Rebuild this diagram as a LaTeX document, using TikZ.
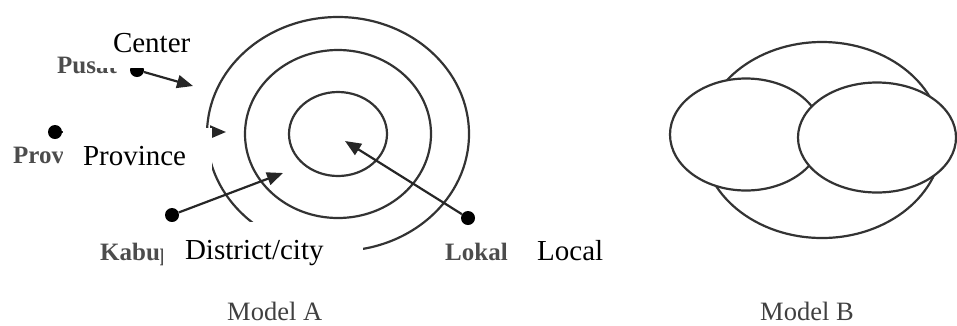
\documentclass[tikz,border=0pt]{standalone}
\usepackage{fontspec}
\setmainfont{Liberation Serif}
\usetikzlibrary{arrows.meta}
\tikzset{
  ring/.style={line width=2.2pt, draw=black!80},
  dot/.style={circle, fill=black, inner sep=0pt, minimum size=14pt},
  link/.style={line width=2.2pt, draw=black!85, -{Triangle[length=16pt,width=13pt]}},
  oldlabel/.style={text=black!70, font=\fontsize{25}{30}\selectfont\bfseries, inner sep=0pt, anchor=base west},
  newlabel/.style={fill=white, inner ysep=0pt, align=left, font=\fontsize{29}{34}\selectfont},
  modellabel/.style={text=black!75, font=\fontsize{26.5}{30}\selectfont, inner sep=0pt, anchor=base west}
}
\begin{document}
\begin{tikzpicture}[x=1pt, y=-1pt]
    \useasboundingbox (0,0) rectangle (957,325);
    \draw[ring] (338,134) ellipse (131 and 117);
    \draw[ring] (338,134) ellipse (93 and 84);
    \draw[ring] (338,134) ellipse (49 and 42);
    \node[dot] (pusat) at (137,70) {};    \coordinate (pusatTip) at (193,86);
    \node[dot] (prov) at (55,132) {};     \coordinate (provTip) at (226,132);
    \node[dot] (kab) at (172,215) {};     \coordinate (kabTip) at (283,173);
    \node[dot] (lokal) at (468,218) {};   \coordinate (lokalTip) at (345,141);
    \draw[link] (pusat) -- (pusatTip); \draw[link] (prov) -- (provTip);
    \draw[link] (kab) -- (kabTip);     \draw[link] (lokal) -- (lokalTip);
    \node[oldlabel] (pusatText) at (57,73) {Pusat};
    \node[oldlabel] (provText) at (13,163) {Provinsi};
    \node[oldlabel] (kabText) at (100,260) {Kabupaten/kota};
    \node[oldlabel] (lokalText) at (445,260) {Lokal};
    \node[newlabel, text width=79pt, inner xsep=18pt, minimum height=50pt] (center) at (152.5,43.4) {Center};
    \node[newlabel, text width=109pt, inner xsep=20pt, minimum height=57pt] (province) at (137.5,156.5) {Province};
    \node[newlabel, text width=156pt, inner xsep=22pt, minimum height=62pt] (district) at (263,253.2) {District/city};
    \node[font=\fontsize{29}{34}\selectfont, inner sep=0pt, anchor=base west] (local) at (537,260) {Local};
    \draw[ring] (822,140) ellipse (120 and 98);
    \draw[ring, fill=white] (746,134.5) ellipse (76 and 56);
    \draw[ring, fill=white] (877,137.5) ellipse (79 and 55);
    \node[modellabel] (modelA) at (227,320) {Model A};
    \node[modellabel] (modelB) at (760,320) {Model B};
  \end{tikzpicture}
\end{document}
